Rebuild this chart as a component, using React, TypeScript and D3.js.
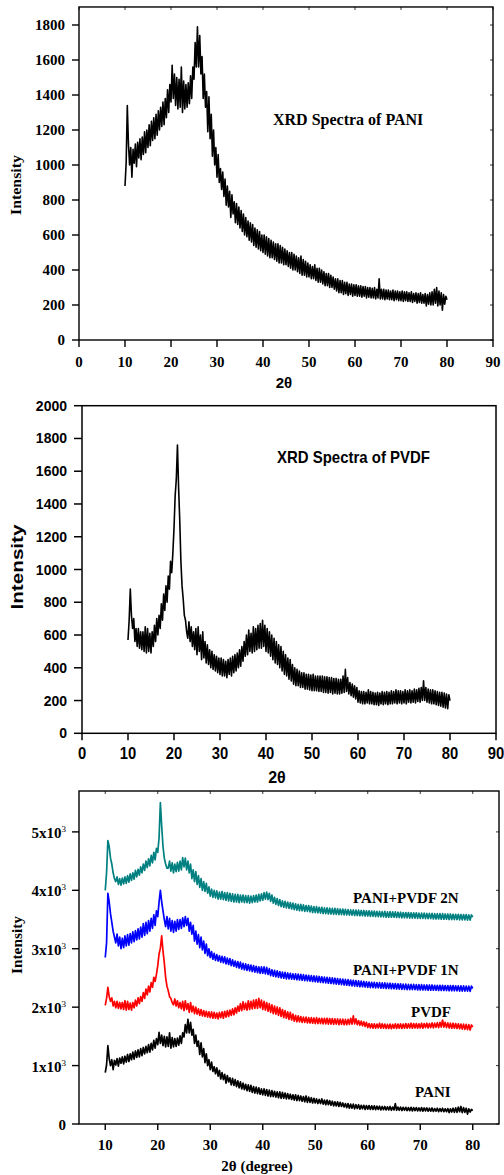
import React from 'react';
import * as d3 from 'd3';

// XRD intensities, 2θ from 10° to 80° in 0.25° steps
const PANI = [
  880,1010,1340,1120,
  1000,1100,930,1090,
  1010,1120,990,1130,
  1040,1150,1030,1160,
  1060,1190,1070,1200,
  1100,1230,1110,1250,
  1140,1270,1150,1290,
  1170,1310,1200,1330,
  1220,1360,1230,1380,
  1270,1430,1300,1460,
  1360,1570,1380,1520,
  1340,1500,1320,1490,
  1330,1560,1300,1480,
  1320,1460,1330,1470,
  1350,1510,1380,1560,
  1490,1700,1560,1790,
  1560,1740,1520,1620,
  1380,1520,1330,1420,
  1190,1390,1150,1290,
  1050,1200,1000,1100,
  930,1060,900,980,
  860,960,820,920,
  770,880,760,850,
  700,830,720,790,
  670,780,660,760,
  640,740,620,720,
  600,700,590,680,
  570,670,560,660,
  540,640,530,630,
  520,620,510,600,
  500,600,490,590,
  480,580,470,570,
  470,560,460,550,
  450,550,440,540,
  440,530,430,520,
  430,510,420,500,
  410,500,400,490,
  400,480,390,470,
  380,480,370,460,
  370,450,360,440,
  360,430,350,420,
  350,430,340,410,
  330,410,330,400,
  320,390,310,380,
  310,380,300,370,
  300,360,290,350,
  280,350,270,340,
  270,340,260,330,
  265,330,255,320,
  260,320,250,315,
  255,315,250,310,
  250,310,245,305,
  250,305,240,300,
  245,300,240,295,
  240,300,235,290,
  240,350,235,290,
  235,290,230,285,
  235,285,230,280,
  230,285,225,280,
  230,280,225,275,
  225,280,220,275,
  225,275,220,270,
  220,275,215,265,
  220,270,210,265,
  215,270,210,260,
  210,265,195,260,
  205,270,200,275,
  200,290,210,300,
  195,280,200,270,
  170,260,205,250,
  230,
];

const PVDF = [
  570,690,880,720,
  640,700,560,640,
  530,640,520,620,
  510,620,500,650,
  490,640,500,610,
  490,620,530,660,
  560,700,600,720,
  640,790,690,850,
  750,900,800,960,
  880,1050,980,1100,
  1250,1450,1550,1760,
  1500,1300,1050,900,
  820,720,690,620,
  580,680,560,650,
  530,620,510,640,
  480,650,500,600,
  450,620,460,560,
  430,540,420,510,
  400,500,390,480,
  380,470,370,460,
  360,460,350,450,
  350,440,340,450,
  360,460,350,470,
  370,480,380,490,
  400,510,410,530,
  440,560,470,600,
  480,630,500,610,
  490,650,500,640,
  510,660,520,670,
  520,690,530,660,
  500,640,490,620,
  470,600,450,580,
  430,560,420,540,
  400,530,380,500,
  360,480,350,460,
  330,450,320,420,
  300,400,290,390,
  290,380,280,370,
  280,370,270,360,
  270,360,265,355,
  260,360,260,350,
  260,350,255,350,
  255,350,250,345,
  250,345,245,340,
  250,340,240,335,
  245,335,240,330,
  240,330,245,350,
  250,390,255,340,
  240,310,230,300,
  220,290,210,280,
  190,260,185,255,
  180,255,180,250,
  185,265,180,255,
  180,250,175,245,
  175,250,170,245,
  180,255,175,250,
  180,255,175,250,
  180,260,180,255,
  185,265,180,260,
  185,260,180,255,
  185,265,180,260,
  190,265,185,260,
  190,270,185,265,
  195,275,190,280,
  200,320,200,280,
  190,270,185,265,
  180,265,180,260,
  175,255,170,250,
  165,250,160,245,
  155,240,150,235,
  200,
];

const PANI_PVDF_1N = [
  2850,3100,3950,3800,
  3600,3450,3300,3200,
  3100,3250,3050,3200,
  3000,3180,3020,3220,
  3050,3240,3060,3260,
  3100,3290,3120,3310,
  3150,3340,3170,3370,
  3200,3430,3230,3450,
  3260,3480,3300,3520,
  3350,3580,3400,3650,
  3550,3800,4000,3800,
  3650,3500,3380,3550,
  3340,3520,3300,3480,
  3280,3470,3300,3500,
  3330,3500,3350,3530,
  3380,3550,3400,3520,
  3300,3450,3250,3400,
  3130,3300,3080,3240,
  3020,3200,2980,3130,
  2920,3080,2880,3000,
  2850,2950,2820,2920,
  2800,2900,2790,2880,
  2770,2870,2760,2860,
  2740,2840,2730,2830,
  2710,2810,2700,2790,
  2680,2780,2670,2770,
  2650,2750,2640,2740,
  2630,2730,2620,2720,
  2610,2710,2600,2700,
  2590,2690,2580,2690,
  2580,2690,2570,2680,
  2560,2660,2540,2640,
  2530,2630,2520,2620,
  2510,2610,2500,2600,
  2495,2595,2485,2585,
  2485,2580,2480,2570,
  2475,2570,2470,2565,
  2465,2560,2460,2555,
  2455,2550,2450,2545,
  2445,2540,2440,2535,
  2435,2530,2430,2525,
  2425,2520,2420,2515,
  2415,2510,2410,2505,
  2405,2500,2400,2495,
  2395,2490,2390,2485,
  2385,2480,2380,2475,
  2375,2470,2370,2465,
  2365,2460,2360,2455,
  2355,2450,2350,2445,
  2350,2440,2345,2435,
  2340,2430,2335,2425,
  2335,2425,2330,2420,
  2330,2420,2325,2415,
  2325,2415,2320,2410,
  2320,2410,2315,2405,
  2315,2405,2310,2400,
  2310,2400,2305,2395,
  2305,2395,2300,2390,
  2300,2390,2300,2390,
  2300,2385,2295,2385,
  2295,2385,2295,2380,
  2295,2380,2290,2380,
  2290,2380,2290,2375,
  2290,2375,2285,2375,
  2285,2375,2285,2370,
  2285,2370,2280,2370,
  2280,2370,2280,2365,
  2280,2365,2275,2365,
  2275,2365,2275,2360,
  2275,2360,2270,2360,
  2320,
];

const PANI_PVDF_2N = [
  4000,4300,4850,4750,
  4550,4450,4300,4200,
  4150,4230,4100,4200,
  4090,4210,4110,4230,
  4120,4250,4140,4280,
  4170,4300,4190,4340,
  4230,4360,4260,4400,
  4300,4450,4340,4500,
  4390,4540,4420,4600,
  4470,4650,4520,4720,
  4650,4900,5500,5100,
  4750,4550,4450,4380,
  4380,4500,4330,4470,
  4300,4450,4320,4480,
  4330,4500,4350,4560,
  4400,4550,4350,4500,
  4300,4450,4200,4350,
  4150,4320,4100,4250,
  4050,4200,4000,4150,
  3980,4120,3950,4060,
  3900,4020,3880,4000,
  3870,3990,3850,3970,
  3850,3980,3840,3960,
  3830,3960,3820,3950,
  3810,3940,3800,3930,
  3800,3930,3790,3920,
  3800,3920,3790,3910,
  3790,3910,3780,3900,
  3790,3910,3800,3920,
  3800,3930,3820,3940,
  3830,3960,3850,3970,
  3840,3950,3810,3920,
  3780,3880,3760,3860,
  3740,3840,3720,3820,
  3710,3810,3700,3800,
  3690,3790,3680,3780,
  3670,3770,3660,3760,
  3650,3760,3650,3750,
  3640,3740,3640,3740,
  3630,3730,3620,3720,
  3620,3720,3615,3710,
  3610,3710,3600,3700,
  3600,3700,3595,3695,
  3595,3690,3590,3690,
  3590,3685,3585,3680,
  3585,3680,3580,3675,
  3580,3670,3575,3665,
  3575,3665,3570,3660,
  3570,3660,3565,3655,
  3565,3655,3560,3650,
  3560,3650,3555,3645,
  3555,3645,3550,3640,
  3550,3640,3545,3635,
  3545,3640,3540,3630,
  3540,3635,3540,3630,
  3540,3630,3535,3625,
  3535,3625,3530,3620,
  3530,3620,3530,3620,
  3525,3615,3525,3615,
  3525,3615,3520,3610,
  3520,3610,3520,3610,
  3515,3605,3515,3605,
  3515,3605,3510,3600,
  3510,3600,3510,3600,
  3505,3600,3505,3595,
  3505,3595,3500,3595,
  3500,3590,3500,3590,
  3500,3590,3495,3585,
  3495,3585,3495,3585,
  3490,3580,3490,3580,
  3540,
];

const START_2THETA = 10;
const STEP_2THETA = 0.25;
const PVDF_OFFSET = 1460;

const X_TICKS_FULL = [0, 10, 20, 30, 40, 50, 60, 70, 80, 90];
const Y_TICKS_PANI = [0, 200, 400, 600, 800, 1000, 1200, 1400, 1600, 1800];
const Y_TICKS_PVDF = [0, 200, 400, 600, 800, 1000, 1200, 1400, 1600, 1800, 2000];
const X_TICKS_MIX = [10, 20, 30, 40, 50, 60, 70, 80];
const Y_TICKS_MIX = [0, 1000, 2000, 3000, 4000, 5000];
const Y_TICK_MANTISSA = ['0', '1x10', '2x10', '3x10', '4x10', '5x10'];

const SERIF = "'Liberation Serif', 'Times New Roman', serif";
const SANS = "'Liberation Sans', Arial, sans-serif";

const twoTheta = (i: number) => START_2THETA + i * STEP_2THETA;

function linePath(data: number[], x: d3.ScaleLinear<number, number>, y: d3.ScaleLinear<number, number>, offset = 0) {
  return d3.line<number>()
    .x((_, i) => x(twoTheta(i)))
    .y((d) => y(d + offset))(data) || '';
}

function ChartPANI() {
  const x = d3.scaleLinear().domain([0, 90]).range([79, 493]);
  const y = d3.scaleLinear().domain([0, 1800]).range([340, 25]);
  const top = y(1903);
  return (
    <g>
      <path d={linePath(PANI, x, y)} fill="none" stroke="#000" strokeWidth={1.6} strokeLinejoin="round" />
      <rect x={x(0)} y={top} width={x(90) - x(0)} height={y(0) - top} fill="none" stroke="#000" strokeWidth={1.4} />
      {Y_TICKS_PANI.map((t) => (
        <g key={t}>
          <line x1={x(0) - 7} x2={x(0)} y1={y(t)} y2={y(t)} stroke="#000" strokeWidth={1.4} />
          <line x1={x(90) - 3} x2={x(90)} y1={y(t)} y2={y(t)} stroke="#000" strokeWidth={0.8} />
          <text x={65} y={y(t) + 5} textAnchor="end" fontFamily={SERIF} fontWeight="bold" fontSize={15}>{t}</text>
        </g>
      ))}
      {X_TICKS_FULL.map((t) => (
        <g key={t}>
          <line x1={x(t)} x2={x(t)} y1={y(0)} y2={y(0) + 7} stroke="#000" strokeWidth={1.4} />
          <line x1={x(t)} x2={x(t)} y1={top} y2={top + 3} stroke="#000" strokeWidth={0.8} />
          <text x={x(t)} y={367} textAnchor="middle" fontFamily={SERIF} fontWeight="bold" fontSize={15}>{t}</text>
        </g>
      ))}
      <text x={284} y={388} textAnchor="middle" fontFamily={SANS} fontWeight="bold" fontSize={15}>2θ</text>
      <text transform="translate(21,185) rotate(-90)" textAnchor="middle" fontFamily={SERIF} fontWeight="bold" fontSize={15} textLength={60} lengthAdjust="spacingAndGlyphs">Intensity</text>
      <text x={273} y={125} fontFamily={SERIF} fontWeight="bold" fontSize={16}>XRD Spectra of PANI</text>
    </g>
  );
}

function ChartPVDF() {
  const x = d3.scaleLinear().domain([0, 90]).range([82, 496]);
  const y = d3.scaleLinear().domain([0, 2000]).range([733.3, 405.7]);
  return (
    <g>
      <path d={linePath(PVDF, x, y)} fill="none" stroke="#000" strokeWidth={1.6} strokeLinejoin="round" />
      <rect x={x(0)} y={y(2000)} width={x(90) - x(0)} height={y(0) - y(2000)} fill="none" stroke="#000" strokeWidth={1.5} />
      {Y_TICKS_PVDF.map((t) => (
        <g key={t}>
          <line x1={x(0) - 8} x2={x(0)} y1={y(t)} y2={y(t)} stroke="#000" strokeWidth={1.5} />
          <text x={67} y={y(t) + 5} textAnchor="end" fontFamily={SANS} fontWeight="bold" fontSize={14}>{t}</text>
        </g>
      ))}
      {X_TICKS_FULL.map((t) => (
        <g key={t}>
          <line x1={x(t)} x2={x(t)} y1={y(0)} y2={y(0) + 7} stroke="#000" strokeWidth={1.5} />
          <text transform={`translate(${x(t)},759) scale(0.87,1)`} textAnchor="middle" fontFamily={SANS} fontWeight="bold" fontSize={17}>{t}</text>
        </g>
      ))}
      <text x={277} y={783} textAnchor="middle" fontFamily={SANS} fontWeight="bold" fontSize={16}>2θ</text>
      <text transform="translate(23,567) rotate(-90)" textAnchor="middle" fontFamily={SANS} fontWeight="bold" fontSize={17} textLength={85} lengthAdjust="spacingAndGlyphs">Intensity</text>
      <text x={277} y={463} fontFamily={SANS} fontWeight="bold" fontSize={17} textLength={153} lengthAdjust="spacingAndGlyphs">XRD Spectra of PVDF</text>
    </g>
  );
}

function ChartMix() {
  const x = d3.scaleLinear().domain([5, 85]).range([79, 499]);
  const y = d3.scaleLinear().domain([0, 5700]).range([1124, 791]);
  const series = [
    { data: PANI_PVDF_2N, color: '#008080', offset: 0 },
    { data: PANI_PVDF_1N, color: '#0000FF', offset: 0 },
    { data: PVDF, color: '#FF0000', offset: PVDF_OFFSET },
    { data: PANI, color: '#000000', offset: 0 },
  ];
  return (
    <g>
      {series.map((s, k) => (
        <path key={k} d={linePath(s.data, x, y, s.offset)} fill="none" stroke={s.color} strokeWidth={1.7} strokeLinejoin="round" />
      ))}
      <rect x={x(5)} y={y(5700)} width={x(85) - x(5)} height={y(0) - y(5700)} fill="none" stroke="#000" strokeWidth={1.4} />
      {Y_TICKS_MIX.map((t, i) => (
        <g key={t}>
          <line x1={x(5) - 7} x2={x(5)} y1={y(t)} y2={y(t)} stroke="#000" strokeWidth={1.4} />
          <line x1={x(85) - 3} x2={x(85)} y1={y(t)} y2={y(t)} stroke="#000" strokeWidth={0.8} />
          <text x={66} y={y(t) + 6} textAnchor="end" fontFamily={SERIF} fontWeight="bold" fontSize={15}>
            {Y_TICK_MANTISSA[i]}
            {t > 0 ? <tspan dy={-6} fontSize={9} fontWeight="normal">3</tspan> : null}
          </text>
        </g>
      ))}
      {X_TICKS_MIX.map((t) => (
        <g key={t}>
          <line x1={x(t)} x2={x(t)} y1={y(0)} y2={y(0) + 6} stroke="#000" strokeWidth={1.4} />
          <line x1={x(t)} x2={x(t)} y1={y(5700)} y2={y(5700) + 3} stroke="#000" strokeWidth={0.8} />
          <text x={x(t)} y={1150} textAnchor="middle" fontFamily={SERIF} fontWeight="bold" fontSize={15}>{t}</text>
        </g>
      ))}
      <text x={257} y={1171} textAnchor="middle" fontFamily={SERIF} fontWeight="bold" fontSize={15}>2θ (degree)</text>
      <text transform="translate(22,945) rotate(-90)" textAnchor="middle" fontFamily={SERIF} fontWeight="bold" fontSize={15} textLength={58} lengthAdjust="spacingAndGlyphs">Intensity</text>
      <text x={353} y={903} fontFamily={SERIF} fontWeight="bold" fontSize={15}>PANI+PVDF 2N</text>
      <text x={353} y={975} fontFamily={SERIF} fontWeight="bold" fontSize={15}>PANI+PVDF 1N</text>
      <text x={411} y={1017} fontFamily={SERIF} fontWeight="bold" fontSize={15}>PVDF</text>
      <text x={415} y={1097} fontFamily={SERIF} fontWeight="bold" fontSize={15}>PANI</text>
    </g>
  );
}

export default function App() {
  return (
    <svg width={504} height={1175} viewBox="0 0 504 1175" style={{ position: 'absolute', left: 0, top: 0, background: '#fff' }}>
      <rect width={504} height={1175} fill="#fff" />
      <ChartPANI />
      <ChartPVDF />
      <ChartMix />
    </svg>
  );
}
